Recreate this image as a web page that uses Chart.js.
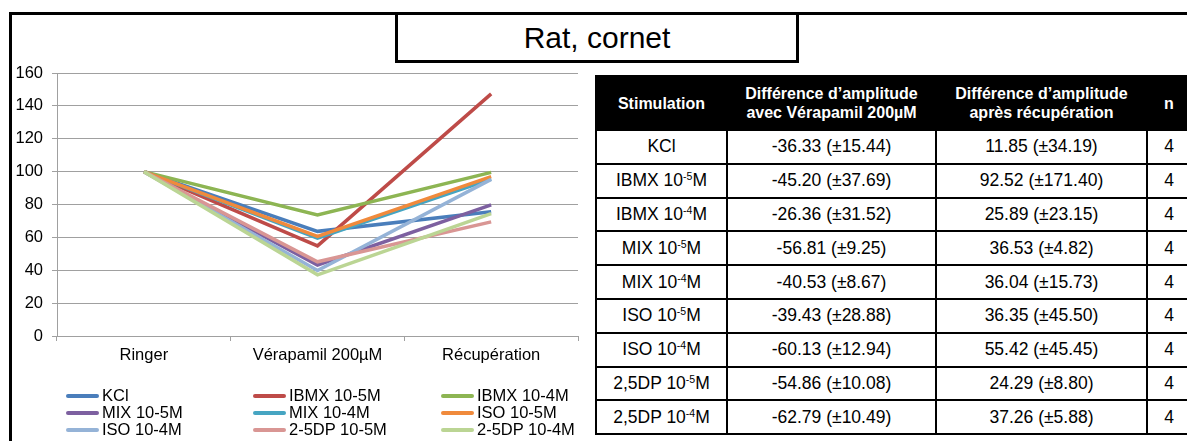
<!DOCTYPE html>
<html lang="fr">
<head>
  <meta charset="UTF-8">
  <title>Rat, cornet</title>
  <script src="https://cdn.jsdelivr.net/npm/chart.js"></script>
  <style>
    body { margin: 0; width: 1187px; height: 441px; overflow: hidden; background: #fff; position: relative;
           font-family: Arial, "Liberation Sans", sans-serif; color: #000; }
    #frame { position: absolute; left: 9px; top: 12px; width: 1300px; height: 600px;
             border-top: 3px solid #000; border-left: 3px solid #000; }
    #chartBox { position: absolute; left: 0; top: 0; width: 590px; height: 441px; }
    #title { position: absolute; left: 395px; top: 12px; width: 398px; height: 45px; border: 3px solid #000;
             background: #fff; text-align: center; font-size: 30px; line-height: 45px; }
    .item { position: absolute; height: 17px; line-height: 17px; font-size: 16.5px; white-space: nowrap; }
    .item i { display: inline-block; width: 33px; height: 4px; border-radius: 2px; vertical-align: middle;
              margin-right: 3px; position: relative; top: -1px; }
    table { position: absolute; left: 595px; top: 75px; width: 595px; border-collapse: collapse; table-layout: fixed; }
    th, td { border: 2px solid #000; text-align: center; padding: 0; }
    th { background: #000; color: #fff; font-weight: bold; font-size: 16px; line-height: 19px; height: 52px; }
    td { font-size: 17.5px; height: 31.8px; }
    sup { font-size: 0.6em; vertical-align: 0.55em; line-height: 0; }
  </style>
</head>
<body>

  <div id="frame"></div>
  <div id="chartBox"><canvas id="myChart" width="590" height="441"></canvas></div>
  <div id="title">Rat, cornet</div>
  <div id="legend"></div>

  <table>
    <colgroup><col style="width:131px"><col style="width:209px"><col style="width:211px"><col style="width:44px"></colgroup>
    <thead>
      <tr>
        <th>Stimulation</th>
        <th>Différence d’amplitude<br>avec Vérapamil 200µM</th>
        <th>Différence d’amplitude<br>après récupération</th>
        <th>n</th>
      </tr>
    </thead>
    <tbody id="rows"></tbody>
  </table>

  <script>
    // données du graphique
    const categories = ['Ringer', 'Vérapamil 200µM', 'Récupération'];
    const kcl   = [100, 63.67, 75.52];
    const ibmx5 = [100, 54.80, 147.32];
    const ibmx4 = [100, 73.64, 99.53];
    const mix5  = [100, 43.19, 79.72];
    const mix4  = [100, 59.47, 95.51];
    const iso5  = [100, 60.57, 96.92];
    const iso4  = [100, 39.87, 95.29];
    const dp5   = [100, 45.14, 69.43];
    const dp4   = [100, 37.21, 74.47];

    const seriesNames  = ['KCl', 'IBMX 10-5M', 'IBMX 10-4M', 'MIX 10-5M', 'MIX 10-4M', 'ISO 10-5M', 'ISO 10-4M', '2-5DP 10-5M', '2-5DP 10-4M'];
    const seriesValues = [kcl, ibmx5, ibmx4, mix5, mix4, iso5, iso4, dp5, dp4];
    const seriesColors = ['#4a7ebb', '#be4b48', '#8db553', '#7d60a0', '#46a5c2', '#f08a3c', '#95b3d7', '#d99694', '#bbd594'];

    // données du tableau
    const tableDrug  = ['KCl', 'IBMX 10', 'IBMX 10', 'MIX 10', 'MIX 10', 'ISO 10', 'ISO 10', '2,5DP 10', '2,5DP 10'];
    const tableExp   = ['', '-5', '-4', '-5', '-4', '-5', '-4', '-5', '-4'];
    const tableVera  = ['-36.33 (±15.44)', '-45.20 (±37.69)', '-26.36 (±31.52)', '-56.81 (±9.25)', '-40.53 (±8.67)',
                        '-39.43 (±28.88)', '-60.13 (±12.94)', '-54.86 (±10.08)', '-62.79 (±10.49)'];
    const tableRecup = ['11.85 (±34.19)', '92.52 (±171.40)', '25.89 (±23.15)', '36.53 (±4.82)', '36.04 (±15.73)',
                        '36.35 (±45.50)', '55.42 (±45.45)', '24.29 (±8.80)', '37.26 (±5.88)'];
    const tableN     = [4, 4, 4, 4, 4, 4, 4, 4, 4];

    const grey = '#a0a0a0';
    const font = { family: 'Arial, "Liberation Sans", sans-serif', size: 16.5 };

    const ctx = document.getElementById('myChart').getContext('2d');
    new Chart(ctx, {
      type: 'line',
      data: {
        labels: categories,
        datasets: seriesNames.map((name, i) => ({
          label: name,
          data: seriesValues[i],
          borderColor: seriesColors[i],
          backgroundColor: seriesColors[i],
          borderWidth: 3.5,
          pointRadius: 0,
          tension: 0,
          fill: false,
          order: seriesNames.length - i   // dernière série dessinée au-dessus
        }))
      },
      options: {
        responsive: false,
        animation: false,
        layout: { padding: { top: 73, right: 12, bottom: 0, left: 0 } },
        plugins: { legend: { display: false }, tooltip: { enabled: false } },
        scales: {
          x: {
            offset: true,
            grid: { offset: true, drawOnChartArea: false, tickLength: 5, color: grey },
            border: { color: grey },
            ticks: { color: '#000', font: font, padding: 5, maxRotation: 0 },
            afterFit: (s) => { s.height = 105; }
          },
          y: {
            min: 0, max: 160,
            grid: { color: grey, tickLength: 5 },
            border: { color: grey },
            ticks: { stepSize: 20, color: '#000', font: font, padding: 9 },
            afterFit: (s) => { s.width = 57; }
          }
        }
      }
    });

    // légende sur 3 colonnes
    const legendX = [66, 253, 441];
    const legendY = [395, 412, 429];
    const legend = document.getElementById('legend');
    seriesNames.forEach((name, i) => {
      const d = document.createElement('div');
      d.className = 'item';
      d.style.left = legendX[i % 3] + 'px';
      d.style.top = (legendY[Math.floor(i / 3)] - 8) + 'px';
      d.innerHTML = '<i style="background:' + seriesColors[i] + '"></i>' + name;
      legend.appendChild(d);
    });

    // lignes du tableau
    const rows = document.getElementById('rows');
    tableDrug.forEach((drug, i) => {
      const stim = tableExp[i] ? drug + '<sup>' + tableExp[i] + '</sup>M' : drug;
      const tr = document.createElement('tr');
      tr.innerHTML = '<td>' + stim + '</td><td>' + tableVera[i] + '</td><td>' + tableRecup[i] + '</td><td>' + tableN[i] + '</td>';
      rows.appendChild(tr);
    });
  </script>

</body>
</html>
